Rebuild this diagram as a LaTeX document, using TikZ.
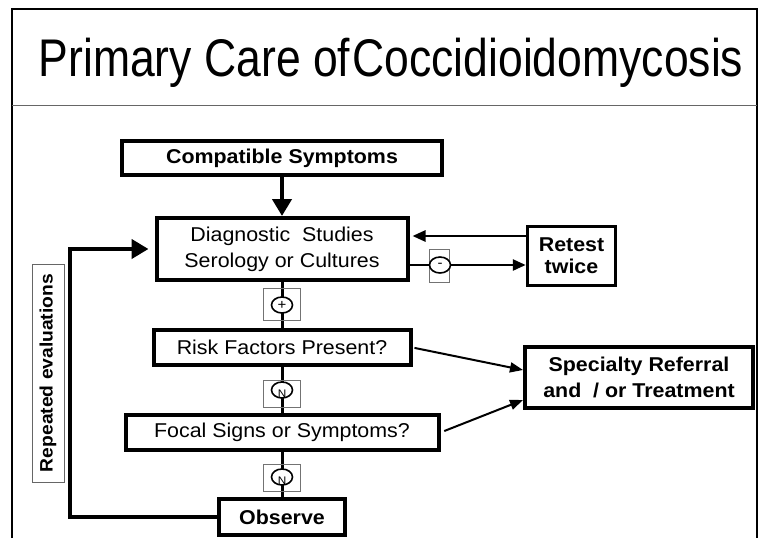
\documentclass[tikz,border=0pt]{standalone}
\usepackage{fontspec}
\setmainfont{Liberation Sans}[FakeStretch=1.07]
\newfontfamily\titlefont{Liberation Sans}[FakeStretch=0.84]
\usetikzlibrary{arrows.meta,shapes.geometric}

\begin{document}
\begin{tikzpicture}[x=1pt,y=-1pt]
\tikzset{
  flowbox/.style={rectangle,draw=black,line width=4pt,fill=white,inner sep=1pt,align=center,font=\fontsize{20}{26}\selectfont},
  boldbox/.style={flowbox,font=\fontsize{20}{26}\selectfont\bfseries},
  markbox/.style={rectangle,draw=black!55,line width=0.8pt,inner sep=0pt},
  markoval/.style={ellipse,draw=black,line width=1.6pt,fill=white,inner sep=0pt,minimum width=21pt,minimum height=16pt,font=\fontsize{14}{14}\selectfont},
  marklabel/.style={inner sep=0pt,font=\fontsize{11}{11}\selectfont},
  flowedge/.style={draw=black,line width=3pt},
  directed/.style={draw=black,line width=2.6pt,-{Triangle[length=13pt,width=11pt]}},
  thindirected/.style={draw=black,line width=2pt,-{Triangle[length=13pt,width=10pt]}},
  heavydirected/.style={draw=black,line width=4.5pt,-{Triangle[length=17pt,width=19pt]}}
}
\useasboundingbox (0,0) rectangle (765,538);
% frame and title
\draw[line width=2pt] (12,538) -- (12,9) -- (757,9) -- (757,538);
\draw[line width=1pt,black!60] (12,105) -- (757,105);
\node[font=\titlefont\fontsize{53}{60}\selectfont] (n_title) at (391,63) {Primary Care of\kern2pt Coccidioidomycosis};
% boxes
\node[boldbox,minimum width=320pt,minimum height=34pt] (n_compat) at (282,158) {Compatible Symptoms};
\node[flowbox,minimum width=251pt,minimum height=62pt] (n_diag) at (282,249) {Diagnostic\ \ Studies\\Serology or Cultures};
\node[boldbox,line width=3.5pt,minimum width=88pt,minimum height=59pt,font=\fontsize{20}{22}\selectfont\bfseries] (n_retest) at (571.5,256) {Retest\\twice};
\node[flowbox,minimum width=257pt,minimum height=35pt] (n_risk) at (282,347.5) {Risk Factors Present?};
\node[flowbox,minimum width=313pt,minimum height=35pt] (n_focal) at (282,432.5) {Focal Signs or Symptoms?};
\node[boldbox,minimum width=126pt,minimum height=36pt] (n_observe) at (282,517) {Observe};
\node[boldbox,minimum width=228pt,minimum height=61pt] (n_spec) at (639,377.5) {Specialty Referral\\and\ \ / or Treatment};
\node[rectangle,draw=black!60,line width=0.8pt,rotate=90,minimum width=218pt,minimum height=32pt,inner sep=0pt,font=\fontsize{18}{18}\selectfont\bfseries] (n_repeat) at (48,373) {Repeated evaluations};
% connectors
\draw[heavydirected] (n_compat) -- (n_diag);
\coordinate (c_rtop) at ([yshift=20pt]n_retest.west);
\draw[directed,shorten >=3pt] (c_rtop) -- (c_rtop -| n_diag.east);
\coordinate (c_dlow) at ([yshift=-16pt]n_diag.east);
\draw[directed] (c_dlow) -- (c_dlow -| n_retest.west);
\draw[flowedge] (n_diag) -- (n_risk);
\draw[flowedge] (n_risk) -- (n_focal);
\draw[flowedge] (n_focal) -- (n_observe);
\draw[thindirected,shorten <=2pt] (n_risk.east) -- ([yshift=7.5pt]n_spec.west);
\draw[thindirected,shorten <=4pt] (n_focal.east) -- ([yshift=-22.5pt]n_spec.west);
\coordinate (c_loop) at (70,249);
\draw[heavydirected,shorten >=6pt] (n_observe.west) -| (c_loop) -- (n_diag.west);
% test result marks
\node[markbox,minimum width=20pt,minimum height=33pt] (n_minusbox) at (439,265.5) {};
\node[markoval] (n_minus) at (440,265) {-};
\node[markbox,minimum width=37pt,minimum height=32pt] (n_plusbox) at (281.5,304) {};
\node[markoval] (n_plus) at (282,305) {+};
\node[markbox,minimum width=37pt,minimum height=27pt] (n_nabox) at (281.5,393.5) {};
\node[markoval] (n_na) at (282,390) {};
\node[marklabel] (n_nalabel) at (282,394) {N};
\node[markbox,minimum width=37pt,minimum height=27pt] (n_nbbox) at (281.5,477.5) {};
\node[markoval] (n_nb) at (282,477) {};
\node[marklabel] (n_nblabel) at (282,481) {N};
\end{tikzpicture}
\end{document}
